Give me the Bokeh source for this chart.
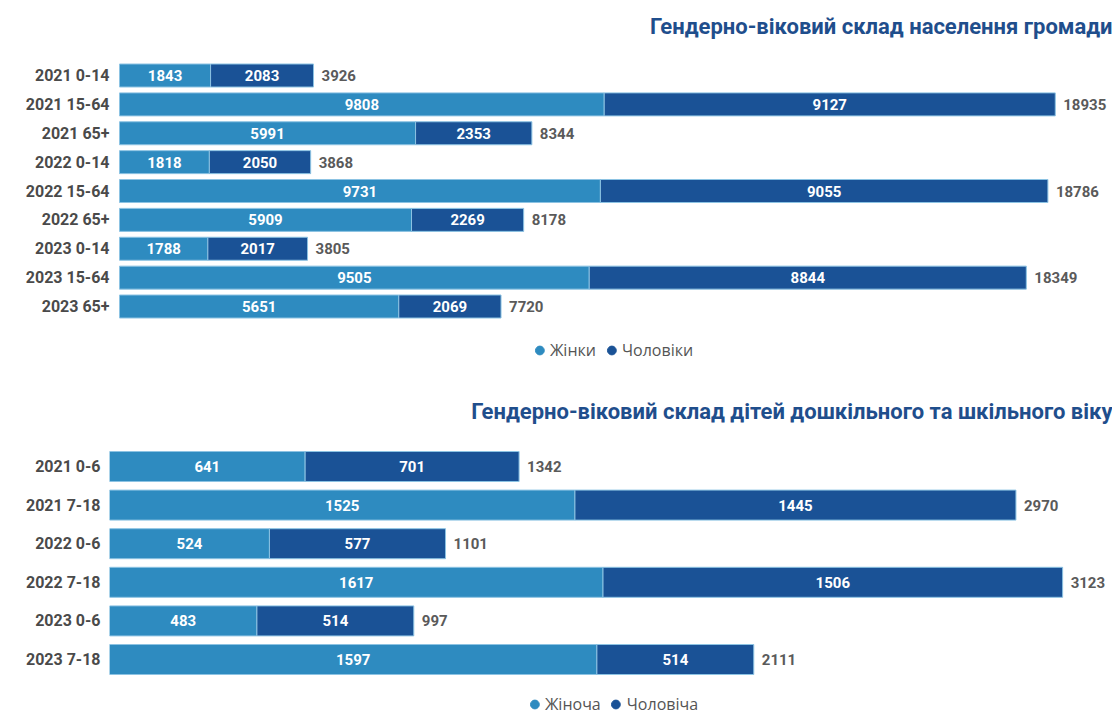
from bokeh.plotting import figure
from bokeh.models import Range1d, FixedTicker, Legend, LegendItem, ColumnDataSource, Title
from bokeh.layouts import column
from bokeh.embed import file_html
from bokeh.resources import INLINE
from bokeh.core.properties import value
import numpy as np

# ---- data: population ----
pop_labels = ["2021 0-14", "2021 15-64", "2021 65+", "2022 0-14", "2022 15-64", "2022 65+",
              "2023 0-14", "2023 15-64", "2023 65+"]
pop_women = [1843, 9808, 5991, 1818, 9731, 5909, 1788, 9505, 5651]
pop_men = [2083, 9127, 2353, 2050, 9055, 2269, 2017, 8844, 2069]
pop_total = [3926, 18935, 8344, 3868, 18786, 8178, 3805, 18349, 7720]

# ---- data: children ----
ch_labels = ["2021 0-6", "2021 7-18", "2022 0-6", "2022 7-18", "2023 0-6", "2023 7-18"]
ch_women = [641, 1525, 524, 1617, 483, 1597]
ch_men = [701, 1445, 577, 1506, 514, 514]
ch_total = [1342, 2970, 1101, 3123, 997, 2111]

title1 = "Гендерно-віковий склад населення громади"
title2 = "Гендерно-віковий склад дітей дошкільного та шкільного віку"
legend1 = ["Жінки", "Чоловіки"]
legend2 = ["Жіноча", "Чоловіча"]

C_W = "#2e8bc0"
C_M = "#1a5296"
C_TITLE = "#1f4e8c"
C_LBL = "#4a4a4a"
C_TOT = "#5a5a5a"
FONT_B = "Roboto"
FONT_L = "Open Sans"

FRAME_LEFT = 109
FIG_W = 1112


def make_chart(labels, women, men, total, title, leg, height, bar_left, scale,
               frame_top, row0, spacing, bar_h_px, label_standoff, title_standoff, legend_margin):
    n = len(labels)
    ypos = np.arange(n)
    src = ColumnDataSource(dict(
        y=ypos, w=women, m=men, t=total,
        wl=[str(v) for v in women], ml=[str(v) for v in men], tl=[str(v) for v in total],
        wmid=[v / 2 for v in women],
        mmid=[a + b / 2 for a, b in zip(women, men)],
        wend=[a + b for a, b in zip(women, men)],
    ))
    frame_w = FIG_W - FRAME_LEFT
    x0 = -(bar_left - FRAME_LEFT) / scale
    x1 = x0 + frame_w / scale
    frame_bot = height
    ytop = -(row0 - frame_top) / spacing
    ybot = ytop + (frame_bot - frame_top) / spacing
    p = figure(width=FIG_W, height=height, output_backend="svg", toolbar_location=None,
               x_range=Range1d(x0, x1), y_range=Range1d(ybot, ytop),
               min_border_left=FRAME_LEFT, min_border_right=0, min_border_top=frame_top,
               min_border_bottom=0)
    p.add_layout(Title(text=title, align="right", text_font=FONT_B, text_font_size="22px",
                       text_color=C_TITLE, text_font_style="bold", standoff=title_standoff), "above")
    bh = bar_h_px / spacing
    p.hbar(y="y", left=0, right="w", height=bh, source=src, fill_color=C_W,
           line_color="#8cc3e3", line_width=1)
    p.hbar(y="y", left="w", right="wend", height=bh, source=src, fill_color=C_M,
           line_color="#8cc3e3", line_width=1)
    p.text(x="wmid", y="y", text="wl", source=src, text_align="center", text_baseline="middle",
           text_color="white", text_font=value(FONT_B), text_font_style="bold",
           text_font_size="15px")
    p.text(x="mmid", y="y", text="ml", source=src, text_align="center", text_baseline="middle",
           text_color="white", text_font=value(FONT_B), text_font_style="bold",
           text_font_size="15px")
    p.text(x="t", y="y", text="tl", source=src, text_align="left", text_baseline="middle",
           x_offset=8, text_color=C_TOT, text_font=value(FONT_B), text_font_style="bold",
           text_font_size="15px")
    r1 = p.scatter(x=[np.nan], y=[np.nan], marker="circle", size=11, fill_color=C_W, line_color=C_W)
    r2 = p.scatter(x=[np.nan], y=[np.nan], marker="circle", size=11, fill_color=C_M, line_color=C_M)
    lg = Legend(items=[LegendItem(label=leg[0], renderers=[r1]), LegendItem(label=leg[1], renderers=[r2])],
                orientation="horizontal", location="bottom_center",
                label_text_font=FONT_L, label_text_font_size="16px", label_text_color="#555555",
                background_fill_alpha=0, border_line_alpha=0, glyph_width=22, glyph_height=24,
                label_standoff=0, spacing=4, padding=0, margin=legend_margin)
    p.add_layout(lg, "center")
    p.xaxis.visible = False
    p.xgrid.visible = False
    p.ygrid.visible = False
    p.yaxis.ticker = FixedTicker(ticks=list(ypos))
    p.yaxis.major_label_overrides = {int(i): s for i, s in zip(ypos, labels)}
    p.yaxis.axis_line_color = None
    p.yaxis.major_tick_line_color = None
    p.yaxis.minor_tick_line_color = None
    p.yaxis.major_tick_in = 0
    p.yaxis.major_tick_out = 0
    p.yaxis.major_label_text_font = FONT_B
    p.yaxis.major_label_text_font_style = "bold"
    p.yaxis.major_label_text_font_size = "16px"
    p.yaxis.major_label_text_color = C_LBL
    p.yaxis.major_label_standoff = label_standoff
    p.outline_line_color = None
    return p


p1 = make_chart(pop_labels, pop_women, pop_men, pop_total, title1, legend1,
                height=372, bar_left=119, scale=0.04942, frame_top=48, row0=75,
                spacing=28.875, bar_h_px=23, label_standoff=0, title_standoff=20, legend_margin=10)

p2 = make_chart(ch_labels, ch_women, ch_men, ch_total, title2, legend2,
                height=344, bar_left=109, scale=0.3052, frame_top=58, row0=466 - 372,
                spacing=38.6, bar_h_px=30, label_standoff=9, title_standoff=13, legend_margin=0)

layout = column(p1, p2, spacing=0)
open("out.html", "w").write(file_html(layout, INLINE))
